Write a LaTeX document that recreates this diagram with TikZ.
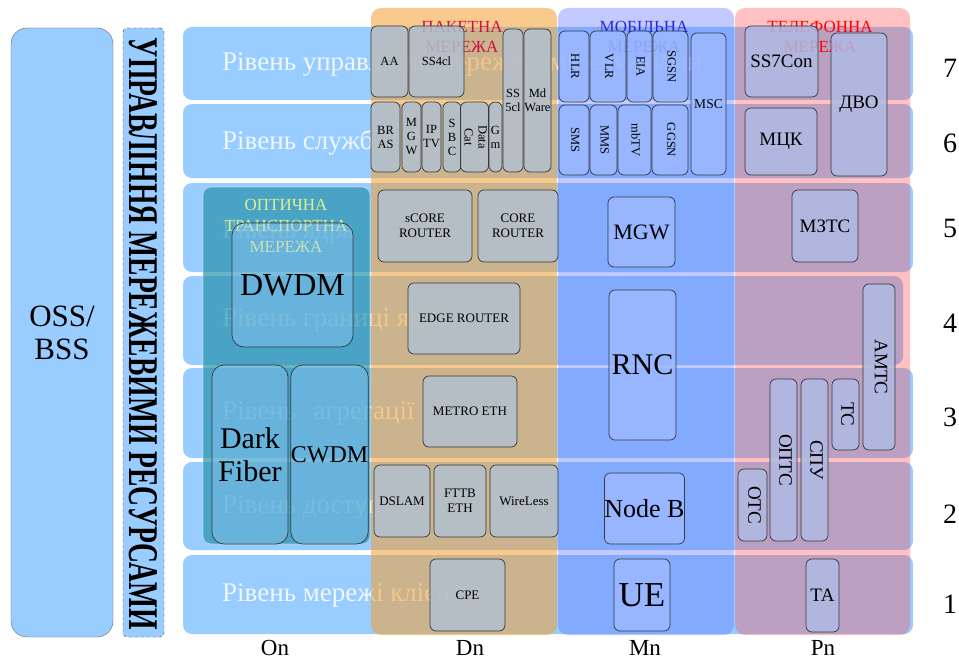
\documentclass[tikz,border=0pt]{standalone}
\usepackage{fontspec}
\setmainfont{Liberation Serif}
\usepackage{graphicx}
\definecolor{bandblue}{RGB}{153,204,255}
\definecolor{pktcol}{RGB}{245,160,50}
\definecolor{mobcol}{RGB}{90,110,255}
\definecolor{telcol}{RGB}{255,80,80}
\definecolor{optcol}{RGB}{35,145,170}
\definecolor{pktfill}{RGB}{176,192,206}
\definecolor{mobfill}{RGB}{155,185,255}
\definecolor{telfill}{RGB}{174,186,228}
\definecolor{optfill}{RGB}{153,204,255}
\definecolor{edgegray}{RGB}{55,55,60}
\definecolor{pkttitle}{RGB}{200,20,70}
\definecolor{mobtitle}{RGB}{40,40,220}
\definecolor{teltitle}{RGB}{255,0,0}
\definecolor{opttitle}{RGB}{225,240,140}
\newcommand\fs[1]{\fontsize{#1}{\dimexpr #1pt*115/100\relax}\selectfont}
% component box: style, name, x1, y1, x2, y2, text
\newcommand\cbox[7]{\node[#1, minimum width={#5-#3}, minimum height={#6-#4}] (#2) at ({(#3+#5)/2},{(#4+#6)/2}) {#7};}
\newcommand\rot[1]{\rotatebox{-90}{\begin{tabular}{@{}c@{}}#1\end{tabular}}}
\begin{document}
\begin{tikzpicture}[x=1pt,y=-1pt,
  layerband/.style={fill=bandblue, rounded corners=9pt},
  lvl/.style={text=white, text opacity=0.85, font=\fs{27}, anchor=west, inner sep=0pt},
  colov/.style={rounded corners=10pt},
  ttl/.style={font=\fontsize{17}{20}\selectfont, align=center, inner sep=0pt},
  comp/.style={draw=edgegray, line width=0.7pt, rounded corners=6pt, inner sep=0pt,
    outer sep=0pt, align=center, fill opacity=0.85, text opacity=1, font=\fontsize{12.5}{14}\selectfont},
  pktc/.style={comp, fill=pktfill},
  pktr/.style={comp, fill=pktfill, font=\fontsize{13}{15}\selectfont},
  mobc/.style={comp, fill=mobfill},
  telc/.style={comp, fill=telfill, font=\fontsize{19}{21}\selectfont},
  optc/.style={comp, fill=optfill, fill opacity=0.4, rounded corners=12pt},
  num/.style={font=\fs{28}, inner sep=0pt},
  netlbl/.style={font=\fs{23}, inner sep=0pt}]
\useasboundingbox (0,0) rectangle (959,661);
\fill[white] (0,0) rectangle (959,661);

% management columns on the left
\node[draw=gray!80!black, fill=bandblue, rounded corners=16pt, minimum width=102, minimum height=609,
  inner sep=0pt, align=center, font=\fontsize{31}{33}\selectfont] (oss) at (62,332.5) {OSS/\\BSS};
\node[draw=edgegray, dashed, fill=bandblue, rounded corners=4pt, minimum width=41, minimum height=609,
  inner sep=0pt] (nrm) at (143.5,332.5) {};
\node[rotate=-90, inner sep=0pt] (nrmtxt) at (143.5,334) {\resizebox{592pt}{28pt}{\bfseries УПРАВЛІННЯ МЕРЕЖЕВИМИ РЕСУРСАМИ}};

% layer bands
\path[layerband] (183,27) rectangle (913,100);
\path[layerband] (183,104) rectangle (913,178);
\path[layerband] (183,183) rectangle (913,272);
\path[layerband] (183,276) rectangle (903,365);
\path[layerband] (183,368) rectangle (913,458);
\path[layerband] (183,462) rectangle (913,550);
\path[layerband] (183,555) rectangle (913,634);

% layer names
\node[lvl] (l7) at (222,64) {Рівень управління мережевими службами};
\node[lvl] (l6) at (222,143) {Рівень служб};
\node[lvl] (l5) at (222,232) {Рівень ядра};
\node[lvl] (l4) at (222,320) {Рівень границі ядра};
\node[lvl] (l3) at (222,413) {Рівень\hspace{0.4em} агрегації};
\node[lvl] (l2) at (222,507) {Рівень доступу};
\node[lvl] (l1) at (222,595) {Рівень мережі клієнта};

% network columns
\path[colov, fill=pktcol, fill opacity=0.55] (371,8) rectangle (557,635);
\path[colov, fill=mobcol, fill opacity=0.36] (558,8) rectangle (734,635);
\path[colov, fill=telcol, fill opacity=0.35] (735,8) rectangle (910,635);
\path[rounded corners=8pt, fill=optcol, fill opacity=0.68, draw=white, draw opacity=0.5, line width=0.6pt]
  (203,187) rectangle (370,544);

% column titles
\node[ttl, text=pkttitle] (tpkt) at (462,37) {ПАКЕТНА\\МЕРЕЖА};
\node[ttl, text=mobtitle] (tmob) at (644,36.5) {МОБІЛЬНА\\МЕРЕЖА};
\node[ttl, text=teltitle] (ttel) at (820,36.5) {ТЕЛЕФОННА\\МЕРЕЖА};
\node[ttl, text=opttitle, font=\fontsize{17}{21}\selectfont] (topt) at (286,226) {ОПТИЧНА\\ТРАНСПОРТНА\\МЕРЕЖА};

% packet network
\cbox{pktc}{aa}{371}{26}{408}{97}{AA}
\cbox{pktc}{ss4}{409}{26}{464}{97}{SS4cl}
\cbox{pktc}{ss5}{503}{29}{523}{172}{SS\\5cl}
\cbox{pktc}{mdw}{524}{29}{551}{172}{Md\\Ware}
\cbox{pktc}{bras}{371}{102}{400}{172}{BR\\AS}
\cbox{pktc}{mgwd}{402}{102}{421}{172}{M\\G\\W}
\cbox{pktc}{iptv}{422}{102}{441}{172}{IP\\TV}
\cbox{pktc}{sbc}{443}{102}{461}{172}{S\\B\\C}
\cbox{pktc}{dcat}{462}{102}{487}{172}{\rot{Data\\Cat}}
\cbox{pktc}{gm}{489}{102}{502}{172}{G\\m}
\cbox{pktr}{score}{378}{190}{472}{262}{sCORE\\ROUTER}
\cbox{pktr}{core}{478}{190}{558}{262}{CORE\\ROUTER}
\cbox{pktr}{edge}{408}{283}{520}{354}{EDGE ROUTER}
\cbox{pktr}{metro}{423}{376}{517}{447}{METRO ETH}
\cbox{pktr}{dslam}{374}{465}{430}{537}{DSLAM}
\cbox{pktr}{fttb}{434}{465}{486}{537}{FTTB\\ETH}
\cbox{pktr}{wless}{490}{465}{558}{537}{WireLess}
\cbox{pktr}{cpe}{430}{559}{505}{631}{CPE}

% mobile network
\cbox{mobc}{hlr}{559}{31}{589}{102}{\rot{HLR}}
\cbox{mobc}{vlr}{590}{31}{626}{102}{\rot{VLR}}
\cbox{mobc}{eia}{627}{31}{652}{102}{\rot{EIA}}
\cbox{mobc}{sgsn}{653}{31}{688}{102}{\rot{SGSN}}
\cbox{mobc, font=\fs{13.5}}{msc}{691}{33}{726}{175}{MSC}
\cbox{mobc}{sms}{559}{105}{589}{175}{\rot{SMS}}
\cbox{mobc}{mms}{590}{105}{617}{175}{\rot{MMS}}
\cbox{mobc}{mbtv}{618}{105}{651}{175}{\rot{mbTV}}
\cbox{mobc}{ggsn}{652}{105}{688}{175}{\rot{GGSN}}
\cbox{mobc, font=\fs{22}}{mgwm}{608}{197}{675}{267}{MGW}
\cbox{mobc, font=\fs{30}}{rnc}{609}{290}{676}{440}{RNC}
\cbox{mobc, font=\fs{26}}{nodeb}{607}{473}{682}{544}{Node B}
\cbox{mobc, font=\fs{35}}{ue}{614}{559}{670}{631}{UE}

% telephone network
\cbox{telc}{ss7}{745}{26}{818}{97}{SS7Con}
\cbox{telc}{dvo}{831}{33}{887}{176}{ДВО}
\cbox{telc}{mck}{745}{108}{817}{175}{МЦК}
\cbox{telc}{mzts}{792}{190}{858}{262}{МЗТС}
\cbox{telc}{amts}{863}{284}{895}{450}{\rot{АМТС}}
\cbox{telc}{ts}{832}{379}{859}{450}{\rot{ТС}}
\cbox{telc}{spu}{801}{379}{828}{541}{\rot{СПУ}}
\cbox{telc}{opts}{770}{379}{797}{541}{\rot{ОПТС}}
\cbox{telc}{ots}{738}{469}{767}{541}{\rot{ОТС}}
\cbox{telc}{ta}{806}{559}{839}{632}{ТА}

% optical transport network
\cbox{optc, font=\fs{32}}{dwdm}{232}{223}{353}{347}{DWDM}
\cbox{optc, font=\fontsize{30}{33}\selectfont}{dfiber}{212}{365}{288}{544}{Dark\\Fiber}
\cbox{optc, font=\fs{24}}{cwdm}{292}{365}{367}{544}{CWDM}

% layer numbers
\node[num] (n7) at (950,68) {7};
\node[num] (n6) at (950,143) {6};
\node[num] (n5) at (950,228) {5};
\node[num] (n4) at (950,323) {4};
\node[num] (n3) at (950,417) {3};
\node[num] (n2) at (950,514) {2};
\node[num] (n1) at (950,604) {1};

% network letters
\node[netlbl] (on) at (275,648) {On};
\node[netlbl] (dn) at (470,648) {Dn};
\node[netlbl] (mn) at (645,648) {Mn};
\node[netlbl] (pn) at (823,648) {Pn};
\end{tikzpicture}
\end{document}
